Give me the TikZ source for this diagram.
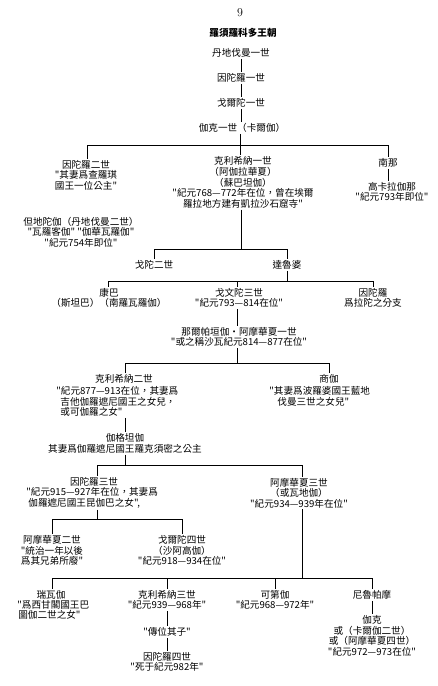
\documentclass[tikz,border=0pt]{standalone}
\usepackage{fontspec}
\newfontfamily\cjk{Noto Sans CJK TC}
\begin{document}
\begin{tikzpicture}[x=1pt,y=-1pt]
\tikzset{
  nm/.style={font=\cjk\fontsize{9.6}{10.6}\selectfont, align=center, inner sep=1.2pt},
  nl/.style={font=\cjk\fontsize{9.6}{10.6}\selectfont, align=left, inner sep=1.2pt, anchor=west},
  ln/.style={line width=0.6pt, black}
}
\useasboundingbox (0,0) rectangle (438,686);
\fill[white] (0,0) rectangle (438,686);
% top
\node[font=\rmfamily\fontsize{12}{12}\selectfont, inner sep=1pt] (nine) at (240,13) {9};
\node[nm, font=\cjk\bfseries\fontsize{9.6}{10.6}\selectfont] (title) at (243,33) {羅須羅科多王朝};
\node[nm] (a1) at (241,53) {丹地伐曼一世};
\node[nm] (a2) at (241,78) {因陀羅一世};
\node[nm] (a3) at (241,103) {戈爾陀一世};
\node[nm] (a4) at (242,128) {伽克一世（卡爾伽）};
% generation b
\coordinate (bus1) at (0,145);
\node[nm] (b1) at (86,175) {因陀羅二世\\"其妻爲查羅琪\\國王一位公主"};
\node[nm] (b2) at (243,182.5) {克利希納一世\\（阿伽拉華夏）\\（蘇巴坦伽）\\"紀元768—772年在位，曾在埃爾\\羅拉地方建有凱拉沙石窟寺"};
\node[nm] (b3) at (388,163) {南那};
\node[nm] (b4) at (392,192) {高卡拉伽那\\"紀元793年即位"};
\node[nm] (dd) at (81,232) {但地陀伽（丹地伐曼二世）\\"瓦羅客伽" "伽華瓦羅伽"\\"紀元754年即位"};
% generation c
\coordinate (bus2) at (0,249);
\node[nm] (c1) at (154,265) {戈陀二世};
\node[nm] (c2) at (287,265) {達魯婆};
% generation d
\coordinate (bus3) at (0,281);
\node[nm] (d1) at (109,298) {康巴\\（斯坦巴）（南羅瓦羅伽）};
\node[nm] (d2) at (239,298) {戈文陀三世\\"紀元793—814在位"};
\node[nm] (d3) at (373,298) {因陀羅\\爲拉陀之分支};
\node[nm] (e1) at (239,337) {那爾帕垣伽・阿摩華夏一世\\"或之稱沙瓦紀元814—877在位"};
% generation f
\coordinate (bus4) at (0,363);
\node[nm] (f1) at (124,379) {克利希納二世};
\node[nl] (f1d) at (55,401.5) {"紀元877—913在位，其妻爲\\\hspace*{4pt}吉他伽羅遮尼國王之女兒，\\\hspace*{4pt}或可伽羅之女"};
\node[nm] (f2) at (329,379) {商伽};
\node[nl] (f2d) at (268,396.5) {"其妻爲波羅婆國王藍地\\\hspace*{8pt}伐曼三世之女兒"};
\node[nm] (g1) at (125,443.5) {伽格坦伽\\其妻爲伽羅遮尼國王羅克須密之公主};
% generation h
\coordinate (bus5) at (0,465);
\node[nm] (h1) at (94,482) {因陀羅三世};
\node[nl] (h1d) at (25,498) {"紀元915—927年在位，其妻爲\\\hspace*{2pt}伽羅遮尼國王昆伽巴之女",};
\node[nm] (h2) at (299,493) {阿摩華夏三世\\（或瓦地伽）\\"紀元934—939年在位"};
% generation i
\coordinate (bus6) at (0,519);
\node[nm] (i1) at (52,550.5) {阿摩華夏二世\\"統治一年以後\\爲其兄弟所廢"};
\node[nm] (i2) at (182,550.5) {戈爾陀四世\\（沙阿高伽）\\"紀元918—934在位"};
% generation j
\coordinate (bus7) at (0,578);
\node[nm] (j1) at (51,595) {瑞瓦伽};
\node[nl] (j1d) at (16,610) {"爲西甘閣國王巴\\\hspace*{1pt}圖伽二世之女"};
\node[nm] (j2) at (167,600) {克利希納三世\\"紀元939—968年"};
\node[nm] (j3) at (167,632) {"傳位其子"};
\node[nm] (j4) at (167,662) {因陀羅四世\\"死于紀元982年"};
\node[nm] (j5) at (275,600) {可第伽\\"紀元968—972年"};
\node[nm] (j6) at (372,595) {尼魯帕摩};
\node[nm] (j7) at (372,636) {伽克\\或（卡爾伽二世）\\或（阿摩華夏四世）\\"紀元972—973在位"};
% connectors
\draw[ln] (a1.south -| 241,0) -- (a2.north -| 241,0);
\draw[ln] (a2.south -| 241,0) -- (a3.north -| 241,0);
\draw[ln] (a3.south -| 241,0) -- (a4.north -| 241,0);
\draw[ln] (a4.south -| 240,0) -- (240,145);
\draw[ln] (87,145 |- bus1) -- (388,145 |- bus1);
\draw[ln] (87,145) -- (b1.north -| 87,0);
\draw[ln] (240,145) -- (b2.north -| 240,0);
\draw[ln] (b3.north |- bus1) -- (b3.north);
\draw[ln] (b3.south) -- (b3.south |- b4.north);
% b2 down
\draw[ln] (b2.south -| 241,0) -- (241,249 |- bus2);
\draw[ln] (c1.north |- bus2) -- (c2.north |- bus2);
\draw[ln] (c1.north |- bus2) -- (c1.north);
\draw[ln] (c2.north |- bus2) -- (c2.north);
% c2 down
\draw[ln] (c2.south) -- (c2.south |- bus3);
\draw[ln] (108,281 |- bus3) -- (d3.north |- bus3);
\draw[ln] (108,281 |- bus3) -- (d1.north -| 108,0);
\draw[ln] (237,281 |- bus3) -- (d2.north -| 237,0);
\draw[ln] (d3.north |- bus3) -- (d3.north);
\draw[ln] (d2.south -| 237,0) -- (e1.north -| 237,0);
% e1 down
\draw[ln] (e1.south -| 237,0) -- (237,363 |- bus4);
\draw[ln] (f1.north -| 125,0) -- (125,363 |- bus4) -- (f2.north |- bus4) -- (f2.north);
\draw[ln] (f1d.south -| 125,0) -- (g1.north -| 125,0);
% g1 down
\draw[ln] (g1.south -| 125,0) -- (125,465 |- bus5);
\draw[ln] (97,465 |- bus5) -- (302,465 |- bus5);
\draw[ln] (97,465 |- bus5) -- (h1.north -| 97,0);
\draw[ln] (302,465 |- bus5) -- (h2.north -| 302,0);
% h1 down
\draw[ln] (h1d.south -| 97,0) -- (97,519 |- bus6);
\draw[ln] (i1.north |- bus6) -- (i2.north |- bus6);
\draw[ln] (i1.north |- bus6) -- (i1.north);
\draw[ln] (i2.north |- bus6) -- (i2.north);
% h2 down
\draw[ln] (h2.south -| 302,0) -- (302,578 |- bus7);
\draw[ln] (52,578 |- bus7) -- (j6.north |- bus7);
\draw[ln] (52,578 |- bus7) -- (j1.north -| 52,0);
\draw[ln] (j2.north |- bus7) -- (j2.north);
\draw[ln] (j5.north |- bus7) -- (j5.north);
\draw[ln] (j6.north |- bus7) -- (j6.north);
\draw[ln] (j2.south) -- (j3.north);
\draw[ln] (j3.south) -- (j4.north);
\draw[ln] (j6.south) -- (j7.north);
\end{tikzpicture}
\end{document}
